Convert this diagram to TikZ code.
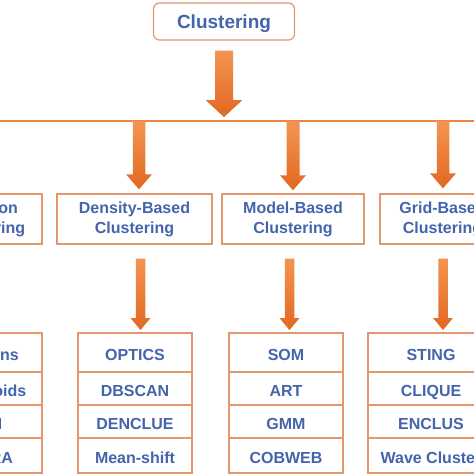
\documentclass[tikz,border=0pt]{standalone}
\usepackage{fontspec}
\setmainfont{Liberation Sans}
\usetikzlibrary{positioning,calc}
\definecolor{textblue}{RGB}{68,100,172}
\definecolor{boxline}{RGB}{226,152,108}
\definecolor{arrowtop}{RGB}{244,148,82}
\definecolor{arrowbot}{RGB}{226,104,32}
\definecolor{busline}{RGB}{237,132,70}
\tikzset{
  rootbox/.style={
    draw=boxline,
    line width=1.2pt,
    rounded corners=6pt,
    text=textblue,
    font=\fontsize{19}{23}\selectfont\bfseries,
    minimum width=141pt,
    minimum height=37pt,
    text depth=0pt,
    inner sep=0pt
  },
  groupbox/.style={
    draw=boxline,
    line width=1.4pt,
    text=textblue,
    font=\fontsize{16}{20}\selectfont\bfseries,
    align=center,
    minimum height=50pt,
    inner sep=0pt
  },
  algbox/.style={
    draw=boxline,
    line width=1.4pt,
    text=textblue,
    font=\fontsize{16}{20}\selectfont\bfseries,
    text height=15pt,
    text depth=0pt,
    inner sep=0pt,
    outer sep=0pt,
    minimum width=114pt
  },
  fat/.style={
    top color=arrowtop,
    bottom color=arrowbot
  }
}
% block arrow: from, to, half shaft, half head, head length
\newcommand{\fatarrow}[5]{%
  \shade[fat] ($(#1)+(-#3,0)$) -- ($(#2)+(-#3,#5)$) -- ($(#2)+(-#4,#5)$) -- (#2)
    -- ($(#2)+(#4,#5)$) -- ($(#2)+(#3,#5)$) -- ($(#1)+(#3,0)$) -- cycle;}

\begin{document}
\begin{tikzpicture}[x=1pt, y=1pt]
  \path[fill=white, use as bounding box] (0,0) rectangle (474,-474);

  % Root
  \node[rootbox] (root) at (224,-21.5) {Clustering};

  % Groups
  \node[groupbox, minimum width=113pt] (part) at (-14.5,-219) {Partition\\Clustering};
  \node[groupbox, minimum width=155pt] (dens) at (134.5,-219) {Density-Based\\Clustering};
  \node[groupbox, minimum width=142pt] (model) at (293,-219) {Model-Based\\Clustering};
  \node[groupbox, minimum width=125pt] (grid) at (442.5,-219) {Grid-Based\\Clustering};

  % Algorithms
  \node[algbox, minimum height=39pt, anchor=north] (part1) at (-15,-333) {K-means};
  \node[algbox, minimum height=33pt, below=0pt of part1] (part2) {K-medoids};
  \node[algbox, minimum height=33pt, below=0pt of part2] (part3) {PAM};
  \node[algbox, minimum height=35pt, below=0pt of part3] (part4) {CLARA};

  \node[algbox, minimum height=39pt, anchor=north] (dens1) at (135,-333) {OPTICS};
  \node[algbox, minimum height=33pt, below=0pt of dens1] (dens2) {DBSCAN};
  \node[algbox, minimum height=33pt, below=0pt of dens2] (dens3) {DENCLUE};
  \node[algbox, minimum height=35pt, below=0pt of dens3] (dens4) {Mean-shift};

  \node[algbox, minimum height=39pt, anchor=north] (model1) at (286,-333) {SOM};
  \node[algbox, minimum height=33pt, below=0pt of model1] (model2) {ART};
  \node[algbox, minimum height=33pt, below=0pt of model2] (model3) {GMM};
  \node[algbox, minimum height=35pt, below=0pt of model3] (model4) {COBWEB};

  \node[algbox, minimum width=126pt, minimum height=39pt, anchor=north] (grid1) at (431,-333) {STING};
  \node[algbox, minimum width=126pt, minimum height=33pt, below=0pt of grid1] (grid2) {CLIQUE};
  \node[algbox, minimum width=126pt, minimum height=33pt, below=0pt of grid2] (grid3) {ENCLUS};
  \node[algbox, minimum width=126pt, minimum height=35pt, below=0pt of grid3] (grid4) {Wave Cluster};

  % Bus line
  \coordinate (busL) at (-80,-121);
  \coordinate (busR) at (560,-121);
  \draw[busline, line width=1.5pt] (busL) -- (busR);

  % Root arrow
  \coordinate (r0) at ($(root.south)+(0,-10)$);
  \coordinate (r1) at ($(root.south |- busL)+(0,4)$);
  \fatarrow{r0}{r1}{9}{18.5}{17}

  % Arrows to groups
  \coordinate (d0) at (139,-121);
  \coordinate (d1) at ($(d0 |- dens.north)+(0,4)$);
  \fatarrow{d0}{d1}{6.25}{13}{15}
  \coordinate (m0) at (293,-121);
  \coordinate (m1) at ($(m0 |- model.north)+(0,3)$);
  \fatarrow{m0}{m1}{6.5}{13}{15}
  \coordinate (g0) at (443,-121);
  \coordinate (g1) at ($(g0 |- grid.north)+(0,5)$);
  \fatarrow{g0}{g1}{6.25}{13}{15}

  % Arrows to algorithms
  \coordinate (dd0) at ($(140.5,0 |- dens.south)+(0,-14)$);
  \coordinate (dd1) at ($(140.5,0 |- dens1.north)+(0,3)$);
  \fatarrow{dd0}{dd1}{4.75}{10}{12}
  \coordinate (mm0) at ($(289.5,0 |- model.south)+(0,-14)$);
  \coordinate (mm1) at ($(289.5,0 |- model1.north)+(0,3)$);
  \fatarrow{mm0}{mm1}{4.75}{10}{12}
  \coordinate (gg0) at ($(443,0 |- grid.south)+(0,-14)$);
  \coordinate (gg1) at ($(443,0 |- grid1.north)+(0,3)$);
  \fatarrow{gg0}{gg1}{4.75}{10}{12}
\end{tikzpicture}
\end{document}
